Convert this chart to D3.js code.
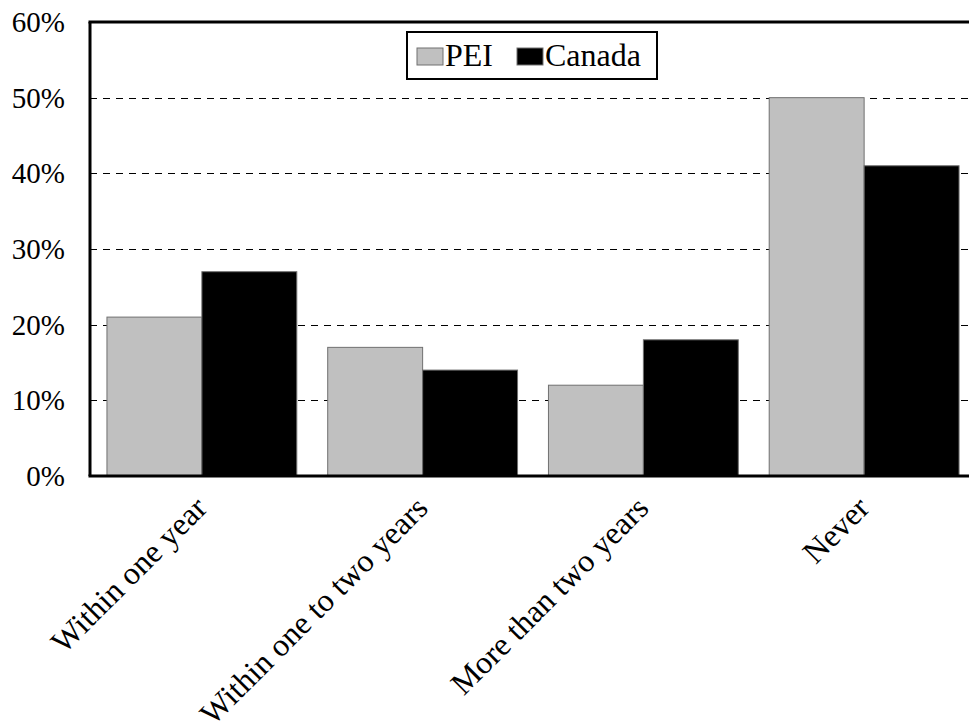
<!DOCTYPE html>
<html><head><meta charset="utf-8">
<script src="https://cdn.jsdelivr.net/npm/d3@7"></script>
<style>
body{margin:0;background:#fff}
svg{display:block}
svg text{font-family:"Liberation Serif","Times New Roman",Times,serif !important;fill:#000}
</style>
</head><body>
<script>
const categories = ["Within one year","Within one to two years","More than two years","Never"];
const seriesNames = ["PEI","Canada"];
const peiValues = [0.21,0.17,0.12,0.50];
const canadaValues = [0.27,0.14,0.18,0.41];
const yTicks = [0,0.1,0.2,0.3,0.4,0.5,0.6];
const colors = {PEI:"#c0c0c0", Canada:"#000000"};

const W=969,H=722;
const plotLeft=90, plotTop=22, plotBottom=476;
const svg=d3.select("body").append("svg").attr("width",W).attr("height",H);

const y=d3.scaleLinear().domain([0,0.6]).range([plotBottom,plotTop]);
const x0=d3.scaleBand().domain(categories).range([91.5,974.5]).paddingInner(0.14).paddingOuter(0.07);
const x1=d3.scaleBand().domain(seriesNames).range([0,x0.bandwidth()]);

// grid
svg.append("g").selectAll("line").data(yTicks.filter(d=>d>0&&d<0.6)).join("line")
 .attr("x1",plotLeft).attr("x2",W).attr("y1",d=>Math.round(y(d))+0.5).attr("y2",d=>Math.round(y(d))+0.5)
 .attr("stroke","#000").attr("stroke-width",1).attr("stroke-dasharray","7,6");

const data=categories.map((c,i)=>({c, vals:[{s:"PEI",v:peiValues[i]},{s:"Canada",v:canadaValues[i]}]}));
svg.append("g").selectAll("g").data(data).join("g")
 .attr("transform",d=>`translate(${x0(d.c)},0)`)
 .selectAll("rect").data(d=>d.vals).join("rect")
 .attr("x",d=>x1(d.s)).attr("width",x1.bandwidth())
 .attr("y",d=>y(d.v)).attr("height",d=>y(0)-y(d.v))
 .attr("fill",d=>colors[d.s]).attr("stroke","#707070").attr("stroke-width",1);

// frame
svg.append("line").attr("x1",plotLeft-1.5).attr("x2",W).attr("y1",plotTop).attr("y2",plotTop).attr("stroke","#000").attr("stroke-width",3);
svg.append("line").attr("x1",plotLeft).attr("x2",plotLeft).attr("y1",plotTop).attr("y2",plotBottom).attr("stroke","#000").attr("stroke-width",3);
svg.append("line").attr("x1",plotLeft-1.5).attr("x2",W).attr("y1",plotBottom).attr("y2",plotBottom).attr("stroke","#000").attr("stroke-width",3);

// y labels
const yAxis=d3.axisLeft(y).tickValues(yTicks).tickFormat(d3.format(".0%")).tickSize(0).tickPadding(0);
const ya=svg.append("g").attr("transform","translate(65,0)").call(yAxis);
ya.select(".domain").remove();
ya.attr("font-family",null).attr("font-size",null);
ya.selectAll("text").style("font-size","29px").attr("dy","0.33em");

// x labels
svg.append("g").selectAll("text").data(categories).join("text")
 .attr("transform",d=>`translate(${x0(d)+x0.bandwidth()/2+7},510) rotate(-45)`)
 .attr("text-anchor","end").style("font-size","32px").text(d=>d);

// legend
const lg=svg.append("g");
lg.append("rect").attr("x",407).attr("y",32).attr("width",250).attr("height",47).attr("fill","#fff").attr("stroke","#000").attr("stroke-width",2);
const items=[{s:"PEI",x:417},{s:"Canada",x:517}];
items.forEach(it=>{
 lg.append("rect").attr("x",it.x).attr("y",48).attr("width",26).attr("height",17).attr("fill",colors[it.s]).attr("stroke","#707070").attr("stroke-width",1);
 lg.append("text").attr("x",it.x+28).attr("y",66).style("font-size","32px").text(it.s);
});
</script>
</body></html>
